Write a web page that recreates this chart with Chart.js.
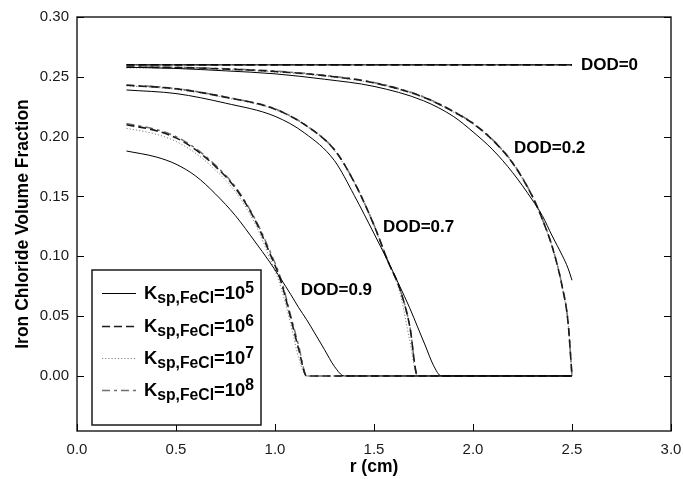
<!DOCTYPE html>
<html>
<head>
<meta charset="utf-8">
<script src="https://cdn.jsdelivr.net/npm/chart.js@4.4.1/dist/chart.umd.min.js"></script>
<style>
  html, body { margin: 0; padding: 0; background: #fff; }
  #chart { display: block; }
</style>
</head>
<body>
<canvas id="chart" width="683" height="479"></canvas>
<script>
/**
 * radius samples (cm) for each depth-of-discharge profile
 */
var rDod0  = [0.25, 2.5];
var rDod02 = [0.25, 0.5, 0.75, 1.0, 1.25, 1.5, 1.75, 1.9, 2.0, 2.1, 2.2, 2.3, 2.35, 2.4, 2.45, 2.48, 2.5];
var rDod07 = [0.25, 0.5, 0.75, 1.0, 1.15, 1.3, 1.4, 1.5, 1.57, 1.63, 1.68, 1.72, 1.76, 1.8, 1.84, 2.5];
var rDod09 = [0.25, 0.4, 0.5, 0.6, 0.7, 0.8, 0.9, 0.97, 1.03, 1.08, 1.12, 1.16, 1.2, 1.25, 1.3, 1.35, 2.5];

/**
 * iron chloride volume fraction, one array per Ksp and DOD
 */
var k5Dod0  = [0.26, 0.26];
var k5Dod02 = [0.258, 0.257, 0.255, 0.2525, 0.248, 0.242, 0.230, 0.217, 0.204, 0.189, 0.170, 0.147, 0.134, 0.117, 0.101, 0.090, 0.080];
var k5Dod07 = [0.239, 0.236, 0.228, 0.217, 0.203, 0.180, 0.151, 0.119, 0.096, 0.075, 0.057, 0.041, 0.025, 0.009, 0.0, 0.0];
var k5Dod09 = [0.188, 0.183, 0.177, 0.167, 0.152, 0.134, 0.112, 0.096, 0.081, 0.068, 0.057, 0.047, 0.036, 0.022, 0.008, 0.0, 0.0];

var k6Dod0  = [0.26, 0.26];
var k6Dod02 = [0.258, 0.2578, 0.2565, 0.2545, 0.251, 0.245, 0.233, 0.221, 0.211, 0.197, 0.178, 0.150, 0.131, 0.108, 0.075, 0.045, 0.0];
var k6Dod07 = [0.243, 0.240, 0.233, 0.223, 0.210, 0.189, 0.162, 0.126, 0.096, 0.073, 0.042, 0.0, 0.0, 0.0, 0.0, 0.0];
var k6Dod09 = [0.210, 0.205, 0.199, 0.189, 0.175, 0.157, 0.130, 0.104, 0.079, 0.048, 0.022, 0.0, 0.0, 0.0, 0.0, 0.0, 0.0];

var k7Dod0  = [0.26, 0.26];
var k7Dod02 = [0.2575, 0.2573, 0.256, 0.254, 0.2505, 0.2445, 0.2325, 0.2205, 0.2105, 0.1965, 0.1775, 0.1495, 0.1305, 0.1075, 0.0745, 0.0445, 0.0];
var k7Dod07 = [0.2425, 0.2395, 0.2325, 0.2225, 0.2095, 0.1885, 0.1615, 0.1255, 0.0950, 0.0700, 0.0300, 0.0, 0.0, 0.0, 0.0, 0.0];
var k7Dod09 = [0.207, 0.202, 0.196, 0.186, 0.172, 0.154, 0.127, 0.100, 0.074, 0.043, 0.015, 0.0, 0.0, 0.0, 0.0, 0.0, 0.0];

var k8Dod0  = [0.26, 0.26];
var k8Dod02 = [0.2582, 0.258, 0.2568, 0.2548, 0.2513, 0.2453, 0.2333, 0.2213, 0.2113, 0.1973, 0.1783, 0.1503, 0.1313, 0.1083, 0.0753, 0.0453, 0.0];
var k8Dod07 = [0.2432, 0.2402, 0.2332, 0.2232, 0.2102, 0.1892, 0.1622, 0.1262, 0.0962, 0.0732, 0.0422, 0.0, 0.0, 0.0, 0.0, 0.0];
var k8Dod09 = [0.211, 0.206, 0.200, 0.190, 0.176, 0.158, 0.131, 0.106, 0.081, 0.050, 0.025, 0.0, 0.0, 0.0, 0.0, 0.0, 0.0];

var kExponents = [5, 6, 7, 8];
var dodNames = ["DOD=0", "DOD=0.2", "DOD=0.7", "DOD=0.9"];
var xTicks = [0.0, 0.5, 1.0, 1.5, 2.0, 2.5, 3.0];
var yTicks = [0.00, 0.05, 0.10, 0.15, 0.20, 0.25, 0.30];

var FONT = '"Liberation Sans", Arial, Helvetica, sans-serif';

/**
 * join the four DOD profiles of one Ksp into a single broken line
 */
function profiles(parts) {
    var pts = [];
    var radii = [rDod0, rDod02, rDod07, rDod09];
    for (var p = 0; p < parts.length; p++) {
        for (var i = 0; i < parts[p].length; i++) {
            pts.push({ x: radii[p][i], y: parts[p][i] });
        }
        pts.push({ x: radii[p][radii[p].length - 1], y: null });
    }
    return pts;
}

var lineStyles = [
    { color: "#000000", width: 1.0, dash: [] },
    { color: "#1a1a1a", width: 1.6, dash: [8, 4] },
    { color: "#808080", width: 1.0, dash: [1.2, 2] },
    { color: "#707070", width: 1.5, dash: [8, 4, 3, 4] }
];

var seriesData = [
    profiles([k5Dod0, k5Dod02, k5Dod07, k5Dod09]),
    profiles([k6Dod0, k6Dod02, k6Dod07, k6Dod09]),
    profiles([k7Dod0, k7Dod02, k7Dod07, k7Dod09]),
    profiles([k8Dod0, k8Dod02, k8Dod07, k8Dod09])
];

var datasets = [];
for (var s = 0; s < seriesData.length; s++) {
    datasets.push({
        label: "Ksp,FeCl=10^" + kExponents[s],
        data: seriesData[s],
        borderColor: lineStyles[s].color,
        borderWidth: lineStyles[s].width,
        borderDash: lineStyles[s].dash,
        pointRadius: 0,
        cubicInterpolationMode: "monotone",
        spanGaps: false,
        fill: false
    });
}

/**
 * where each DOD label sits, in data units (left edge, vertical middle)
 */
var dodLabelAt = [[2.545, 0.260], [2.207, 0.190], [1.545, 0.1246], [1.13, 0.0719]];

function kLabelParts(exp, big, small) {
    return [
        { t: "K", f: big, dy: 0 },
        { t: "sp,FeCl", f: small, dy: 4 },
        { t: "=10", f: big, dy: 0 },
        { t: String(exp), f: small, dy: -6 }
    ];
}

var decorations = {
    id: "decorations",
    afterDraw: function (chart) {
        var ctx = chart.ctx;
        var area = chart.chartArea;
        var xs = chart.scales.x, ys = chart.scales.y;

        ctx.save();

        // frame
        ctx.strokeStyle = "#262626";
        ctx.lineWidth = 1.5;
        ctx.strokeRect(area.left, area.top, area.right - area.left, area.bottom - area.top);

        // inward ticks, left/right and bottom
        ctx.lineWidth = 1;
        ctx.strokeStyle = "#000";
        ctx.beginPath();
        for (var i = 0; i < yTicks.length; i++) {
            var py = Math.round(ys.getPixelForValue(yTicks[i])) + 0.5;
            ctx.moveTo(area.left, py); ctx.lineTo(area.left + 7, py);
            ctx.moveTo(area.right, py); ctx.lineTo(area.right - 7, py);
        }
        for (var j = 0; j < xTicks.length; j++) {
            var px = Math.round(xs.getPixelForValue(xTicks[j])) + 0.5;
            ctx.moveTo(px, area.bottom); ctx.lineTo(px, area.bottom - 7);
        }
        ctx.stroke();

        // DOD labels
        ctx.fillStyle = "#000";
        ctx.font = "bold 17px " + FONT;
        ctx.textAlign = "left";
        ctx.textBaseline = "middle";
        for (var d = 0; d < dodNames.length; d++) {
            ctx.fillText(dodNames[d], xs.getPixelForValue(dodLabelAt[d][0]), ys.getPixelForValue(dodLabelAt[d][1]));
        }

        // axis titles
        ctx.font = "bold 17.5px " + FONT;
        ctx.textAlign = "center";
        ctx.fillText("r (cm)", (area.left + area.right) / 2, 467);
        ctx.save();
        ctx.translate(23, (area.top + area.bottom) / 2);
        ctx.rotate(-Math.PI / 2);
        ctx.fillText("Iron Chloride Volume Fraction", 0, 0);
        ctx.restore();

        // legend box
        var lx = 92, ly = 270, lw = 169, lh = 155;
        ctx.fillStyle = "#fff";
        ctx.fillRect(lx, ly, lw, lh);
        ctx.strokeStyle = "#1a1a1a";
        ctx.lineWidth = 1.5;
        ctx.strokeRect(lx, ly, lw, lh);

        // size the label text so one entry spans about 110px
        var big = 17, small = 14.5, wid = 0;
        var probe = kLabelParts(5, big, small);
        for (var q = 0; q < probe.length; q++) {
            ctx.font = "bold " + probe[q].f + "px " + FONT;
            wid += ctx.measureText(probe[q].t).width;
        }
        var fit = 110 / wid;
        big *= fit; small *= fit;

        var rows = [293, 326, 358, 390];
        for (var k = 0; k < datasets.length; k++) {
            var ds = datasets[k];
            var ry = rows[k];
            ctx.strokeStyle = ds.borderColor;
            ctx.lineWidth = ds.borderWidth;
            ctx.setLineDash(ds.borderDash);
            ctx.beginPath();
            ctx.moveTo(102, ry + 0.5);
            ctx.lineTo(136, ry + 0.5);
            ctx.stroke();
            ctx.setLineDash([]);

            // K with subscript and power of ten
            var tx = 144, base = ry + 6;
            var parts = kLabelParts(kExponents[k], big, small);
            ctx.fillStyle = "#000";
            ctx.textAlign = "left";
            ctx.textBaseline = "alphabetic";
            for (var m = 0; m < parts.length; m++) {
                ctx.font = "bold " + parts[m].f.toFixed(2) + "px " + FONT;
                ctx.fillText(parts[m].t, tx, base + parts[m].dy);
                tx += ctx.measureText(parts[m].t).width;
            }
        }

        ctx.restore();
    }
};

new Chart(document.getElementById("chart").getContext("2d"), {
    type: "line",
    data: { datasets: datasets },
    options: {
        responsive: false,
        animation: false,
        devicePixelRatio: 1,
        layout: { padding: { left: 0, top: 17, right: 12, bottom: 0 } },
        plugins: {
            legend: { display: false },
            tooltip: { enabled: false }
        },
        scales: {
            x: {
                type: "linear",
                min: 0,
                max: 3,
                afterFit: function (scale) {
                    scale.height = 48;
                    scale.paddingLeft = 0;
                    scale.paddingRight = 0;
                },
                afterBuildTicks: function (scale) {
                    scale.ticks = xTicks.map(function (v) { return { value: v }; });
                },
                grid: { display: false, drawTicks: false },
                border: { display: false },
                ticks: {
                    padding: 10,
                    color: "#1a1a1a",
                    font: { family: FONT, size: 15 },
                    callback: function (v) { return Number(v).toFixed(1); }
                }
            },
            y: {
                type: "linear",
                min: -0.046,
                max: 0.30,
                afterFit: function (scale) {
                    scale.width = 77;
                    scale.paddingTop = 0;
                    scale.paddingBottom = 0;
                },
                afterBuildTicks: function (scale) {
                    scale.ticks = yTicks.map(function (v) { return { value: v }; });
                },
                grid: { display: false, drawTicks: false },
                border: { display: false },
                ticks: {
                    padding: 8,
                    color: "#1a1a1a",
                    font: { family: FONT, size: 15 },
                    callback: function (v) { return Number(v).toFixed(2); }
                }
            }
        }
    },
    plugins: [decorations]
});
</script>
</body>
</html>
